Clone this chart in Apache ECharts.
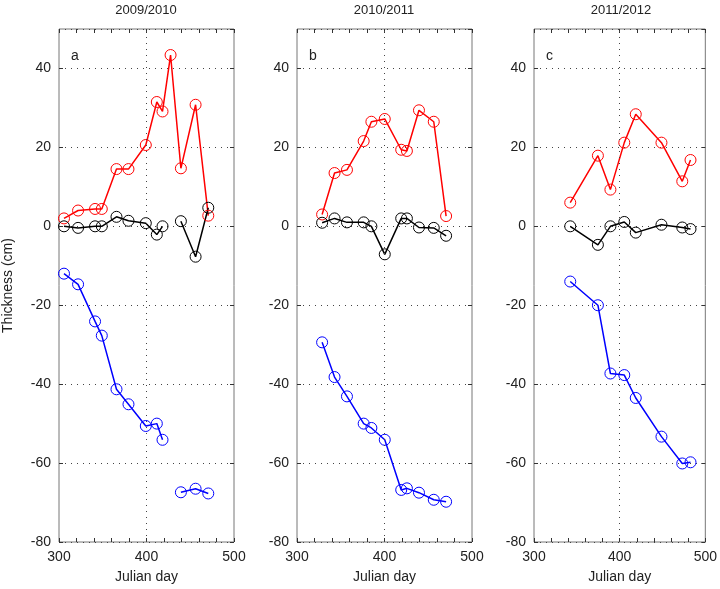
<!DOCTYPE html>
<html lang="en">
<head>
  <meta charset="UTF-8">
  <script type="text/javascript" src="https://cdn.jsdelivr.net/npm/echarts@6/dist/echarts.min.js"></script>
  <title>Thickness</title>
  <style type="text/css">
    * { margin: 0; padding: 0; }
    html, body { width: 100%; height: 100%; background-color: #fff; }
    #chart { width: 720px; height: 589px; }
  </style>
</head>
<body>
<div id="chart"></div>
</body>
<script type="text/javascript">
  var titles = ['2009/2010', '2010/2011', '2011/2012']
  var letters = ['a', 'b', 'c']

  // '-' marks a gap in the line
  var dayA = [305.7, 321.8, 341.2, 348.9, 365.7, 379.4, 399.2, 411.8, 418.3, 429, 439.3, 456.1, 470.6]
  var redA = [2.0, 4.0, 4.4, 4.4, 14.5, 14.5, 20.6, 31.5, 29.1, 43.4, 14.7, 30.8, 2.7]
  var redADays = [305.7, 321.8, 341.2, 348.9, 365.7, 379.4, 399.2, 411.8, 418.3, 427.5, 439.3, 456.1, 470.6]
  var blackA = [0, -0.4, 0, 0, 2.4, 1.4, 0.8, -2.1, 0, '-', 1.3, -7.7, 4.7]
  var blueA = [-12, -14.7, -24.1, -27.7, -41.3, -45.1, -50.6, -50, -54.1, '-', -67.4, -66.5, -67.7]

  var dayB = [328.7, 342.9, 357.1, 376.2, 385, 400.3, 419.1, 425.6, 439.4, 456.3, 470.4]
  var redB = [3.0, 13.5, 14.3, 21.6, 26.5, 27.2, 19.4, 19.1, 29.4, 26.5, 2.6]
  var blackB = [0.9, 2.0, 1.0, 1.0, 0, -7.1, 2.0, 2.0, -0.3, -0.4, -2.4]
  var blueB = [-29.4, -38.2, -43.1, -50, -51.1, -54.1, -66.8, -66.4, -67.5, -69.3, -69.8]

  var dayC = [342.3, 374.6, 389.2, 405.4, 418.8, 448.8, 473.1, 482.7]
  var redC = [6.0, 17.9, 9.3, 21.2, 28.4, 21.2, 11.4, 16.8]
  var blackC = [0, -4.7, 0, 1.1, -1.6, 0.4, -0.3, -0.7]
  var blueC = [-14, -20, -37.3, -37.7, -43.5, -53.3, -60.1, -59.8]

  var panels = [
    { red: [redADays, redA], black: [dayA, blackA], blue: [dayA, blueA] },
    { red: [dayB, redB], black: [dayB, blackB], blue: [dayB, blueB] },
    { red: [dayC, redC], black: [dayC, blackC], blue: [dayC, blueC] }
  ]
  var lefts = [59, 297, 534]

  function pairs(xs, ys) {
    return xs.map(function (x, i) { return [x, ys[i]] })
  }

  var font = 'Liberation Sans'
  var tick = { inside: true, length: 4, lineStyle: { color: '#333' } }
  var grid = [], xAxis = [], yAxis = [], series = [], texts = []
  lefts.forEach(function (l, i) {
    grid.push({ left: l, top: 29, width: 175, height: 517, show: true, borderColor: '#777', borderWidth: 1 })
    xAxis.push({
      type: 'value', gridIndex: i, min: 300, max: 500, interval: 20,
      axisLine: { show: false, onZero: false },
      axisTick: tick,
      axisLabel: { color: '#222', fontSize: 14, fontFamily: font, margin: 8,
        formatter: function (v) { return v % 100 === 0 ? v : '' } },
      splitLine: { show: false },
      name: 'Julian day', nameLocation: 'middle', nameGap: 28,
      nameTextStyle: { color: '#222', fontSize: 14, fontFamily: font }
    })
    xAxis.push({
      type: 'value', gridIndex: i, min: 300, max: 500, interval: 20, position: 'top',
      axisLine: { show: false, onZero: false }, axisLabel: { show: false }, splitLine: { show: false },
      axisTick: tick
    })
    yAxis.push({
      type: 'value', gridIndex: i, min: -80, max: 50, interval: 20,
      axisLine: { show: false, onZero: false },
      axisTick: tick,
      axisLabel: { color: '#222', fontSize: 14, fontFamily: font, showMaxLabel: false },
      splitLine: { show: true, lineStyle: { color: '#444', type: [1, 5] } },
      name: i === 0 ? 'Thickness (cm)' : '', nameLocation: 'middle', nameGap: 44,
      nameTextStyle: { color: '#222', fontSize: 14, fontFamily: font }
    })
    yAxis.push({
      type: 'value', gridIndex: i, min: -80, max: 50, interval: 20, position: 'right',
      axisLine: { show: false, onZero: false }, axisLabel: { show: false }, splitLine: { show: false },
      axisTick: tick
    })
    var p = panels[i]
    var cols = { red: '#ff0000', black: '#000000', blue: '#0000ff' }
    Object.keys(cols).forEach(function (k, j) {
      var s = {
        type: 'line', xAxisIndex: i * 2, yAxisIndex: i * 2,
        data: pairs(p[k][0], p[k][1]), connectNulls: false,
        symbol: 'circle', symbolSize: 11, animation: false,
        lineStyle: { color: cols[k], width: 1.5 },
        itemStyle: { color: 'rgba(0,0,0,0)', borderColor: cols[k], borderWidth: 1 }
      }
      if (j === 0) {
        s.markLine = { silent: true, symbol: 'none', label: { show: false },
          lineStyle: { color: '#444', type: [1, 5], width: 1 }, data: [{ xAxis: 400 }] }
      }
      series.push(s)
    })
    texts.push({ type: 'text', x: l + 87, y: 4, style: { text: titles[i], fill: '#222', font: '13px ' + font, textAlign: 'center' } })
    texts.push({ type: 'text', x: l + 12, y: 49, style: { text: letters[i], fill: '#222', font: '14px ' + font } })
  })

  var myChart = echarts.init(document.getElementById('chart'))
  myChart.setOption({ animation: false, grid: grid, xAxis: xAxis, yAxis: yAxis, series: series, graphic: texts })
</script>
</html>
